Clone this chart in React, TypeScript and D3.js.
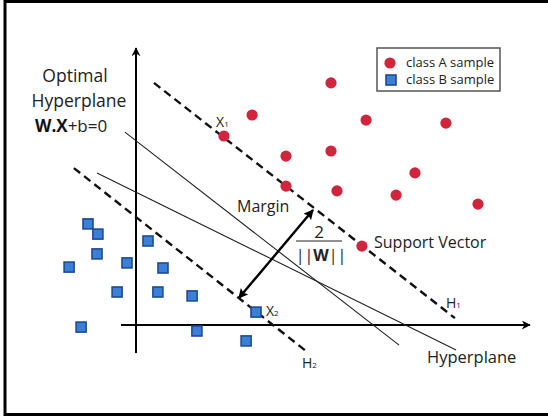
import React from 'react';
import * as d3 from 'd3';

const WIDTH = 548;
const HEIGHT = 416;

// Data in abstract feature-space units (origin = axes crossing)
const classA: [number, number][] = [
  [2.93, 6.3], [3.87, 7.0], [6.5, 8.07], [7.67, 6.83], [10.33, 6.73],
  [5.0, 5.63], [6.5, 5.8], [9.3, 5.07], [5.0, 4.63], [6.7, 4.47],
  [8.67, 4.33], [11.4, 4.03], [7.53, 2.63],
];
const classB: [number, number][] = [
  [-1.6, 3.37], [-1.27, 3.03], [0.4, 2.8], [-1.3, 2.37], [-2.23, 1.93],
  [-0.3, 2.07], [0.9, 1.9], [-0.63, 1.1], [0.73, 1.1], [1.87, 0.97],
  [4.0, 0.43], [-1.83, -0.07], [2.03, -0.2], [3.67, -0.53],
];
const xAxisLine: [number, number][] = [[-0.5, 0], [13.13, 0]];
const yAxisLine: [number, number][] = [[0, -0.93], [0, 9.23]];
const h1Line: [number, number][] = [[0.6, 8.07], [10.63, 0.23]];
const h2Line: [number, number][] = [[-2.07, 5.23], [5.67, -0.87]];
const hyperA: [number, number][] = [[-0.37, 6.43], [8.77, -0.67]];
const hyperB: [number, number][] = [[-1.3, 5.07], [10.67, -0.83]];
const marginArrow: [number, number][] = [[3.43, 0.9], [5.9, 3.83]];
const legendLabels = ['class A sample', 'class B sample'];

const x = d3.scaleLinear().domain([0, 13]).range([136, 526]);
const y = d3.scaleLinear().domain([0, 9]).range([325, 55]);
const line = d3.line<[number, number]>().x(d => x(d[0])).y(d => y(d[1]));

const RED = '#d1243d';
const BLUE = '#3b7fd8';
const BLUE_STROKE = '#1c4d92';
const TXT = '#222';
const FONT = "'Open Sans', 'Noto Sans', sans-serif";

export default function App() {
  const sq = 10;
  return (
    <svg width={WIDTH} height={HEIGHT} style={{ position: 'absolute', left: 0, top: 0, background: '#fff' }} fontFamily={FONT}>
      <defs>
        <marker id="ah" viewBox="0 0 10 10" refX="9" refY="5" markerWidth="10" markerHeight="10" markerUnits="userSpaceOnUse" orient="auto-start-reverse">
          <path d="M0,0 L10,5 L0,10 L2,5 z" fill="#000" />
        </marker>
        <marker id="axh" viewBox="0 0 10 10" refX="9" refY="5" markerWidth="11" markerHeight="9" markerUnits="userSpaceOnUse" orient="auto">
          <path d="M0,0 L10,5 L0,10 L3,5 z" fill="#000" />
        </marker>
      </defs>
      <rect x={5} y={1.5} width={560} height={413} fill="#fff" stroke="#000" strokeWidth={3} />

      {/* axes */}
      <path d={line(xAxisLine)!} stroke="#000" strokeWidth={2} fill="none" markerEnd="url(#axh)" />
      <path d={line(yAxisLine)!} stroke="#000" strokeWidth={2} fill="none" markerEnd="url(#axh)" />

      {/* hyperplanes */}
      <path d={line(hyperA)!} stroke="#222" strokeWidth={1.1} fill="none" />
      <path d={line(hyperB)!} stroke="#222" strokeWidth={1.1} fill="none" />

      {/* margin boundaries */}
      <path d={line(h1Line)!} stroke="#111" strokeWidth={2.4} strokeDasharray="8,5" fill="none" />
      <path d={line(h2Line)!} stroke="#111" strokeWidth={2.4} strokeDasharray="8,5" fill="none" />

      {/* margin arrow */}
      <path d={line(marginArrow)!} stroke="#000" strokeWidth={2.4} fill="none" markerStart="url(#ah)" markerEnd="url(#ah)" />

      {/* points */}
      {classA.map((d, i) => (
        <circle key={'a' + i} cx={x(d[0])} cy={y(d[1])} r={5.6} fill={RED} />
      ))}
      {classB.map((d, i) => (
        <rect key={'b' + i} x={x(d[0]) - sq / 2} y={y(d[1]) - sq / 2} width={sq} height={sq} fill={BLUE} stroke={BLUE_STROKE} strokeWidth={1.6} />
      ))}

      {/* labels */}
      <g fill={TXT}>
        <text x={75} y={82} fontSize={17.5} textAnchor="middle">Optimal</text>
        <text x={79} y={107} fontSize={17.5} textAnchor="middle">Hyperplane</text>
        <text x={35} y={132} fontSize={17}>
          <tspan fontWeight="bold" fill="#111">W.X</tspan><tspan>+b=0</tspan>
        </text>
        <text x={x(2.67)} y={y(6.6)} fontSize={14}>X<tspan fontSize={8}>1</tspan></text>
        <text x={x(4.33)} y={y(0.3)} fontSize={14}>X<tspan fontSize={8}>2</tspan></text>
        <text x={x(10.33)} y={y(0.57)} fontSize={14}>H<tspan fontSize={8}>1</tspan></text>
        <text x={x(5.53)} y={y(-1.43)} fontSize={14}>H<tspan fontSize={8}>2</tspan></text>
        <text x={237} y={212} fontSize={16}>Margin</text>
        <text x={319} y={238} fontSize={17} textAnchor="middle">2</text>
        <line x1={296} x2={342} y1={241} y2={241} stroke={TXT} strokeWidth={1.2} />
        <text x={321} y={261} fontSize={16} textAnchor="middle">||<tspan fontWeight="bold">W</tspan>||</text>
        <text x={374} y={248} fontSize={16}>Support Vector</text>
        <text x={427} y={363} fontSize={16.5}>Hyperplane</text>
      </g>

      {/* legend */}
      <g>
        <rect x={377} y={48} width={123} height={43} fill="#fff" stroke="#555" strokeWidth={1.5} />
        <circle cx={390} cy={63} r={5.6} fill={RED} />
        <rect x={386} y={75} width={10} height={10} fill={BLUE} stroke={BLUE_STROKE} strokeWidth={1.6} />
        <text x={406} y={67} fontSize={13} fill={TXT}>{legendLabels[0]}</text>
        <text x={406} y={84} fontSize={13} fill={TXT}>{legendLabels[1]}</text>
      </g>
    </svg>
  );
}
